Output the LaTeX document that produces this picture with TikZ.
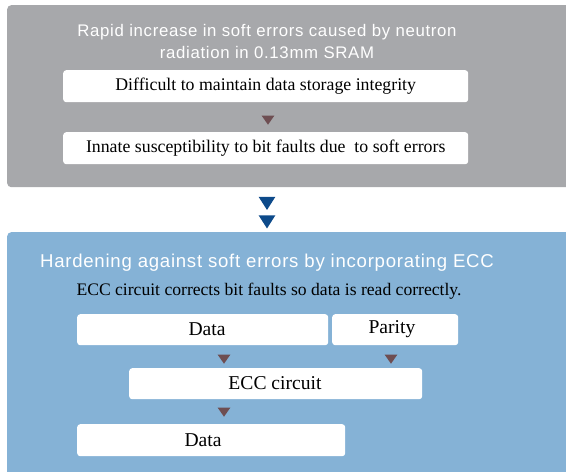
\documentclass[tikz,border=0pt]{standalone}
\usepackage{fontspec}
\setmainfont{Liberation Serif}
\newfontfamily\headfont[LetterSpace=4]{Liberation Sans}
\usetikzlibrary{shapes.geometric}
\definecolor{panelgray}{HTML}{A7A8AB}
\definecolor{panelblue}{HTML}{85B2D6}
\definecolor{navyarrow}{HTML}{0D4A8A}
\definecolor{browntip}{HTML}{6E4E52}
\tikzset{
  panel/.style={rounded corners=4pt, inner sep=0pt, anchor=north west},
  whitebox/.style={fill=white, rounded corners=3pt, inner sep=0pt, anchor=north west},
  headline/.style={text=white, align=center, font=\headfont\fontsize{16.8}{22}\selectfont},
  boxtext/.style={font=\fontsize{17.8}{20}\selectfont},
  celltext/.style={font=\fontsize{19.6}{22}\selectfont},
  tip/.style={isosceles triangle, isosceles triangle apex angle=70, shape border rotate=-90,
    fill=browntip, inner sep=0pt, minimum width=12pt, minimum height=9pt},
  bigtip/.style={isosceles triangle, isosceles triangle apex angle=65, shape border rotate=-90,
    fill=navyarrow, inner sep=0pt, minimum width=15pt, minimum height=13pt}
}
\begin{document}
\begin{tikzpicture}[x=1pt, y=-1pt]
\useasboundingbox (0,0) rectangle (566,472);
\clip (0,0) rectangle (566,472);

% upper panel: the problem
\node[panel, fill=panelgray, minimum width=580pt, minimum height=182pt] (top) at (7,5) {};
\node[headline] (toptitle) at (267,41) {Rapid increase in soft errors caused by neutron\\radiation in 0.13mm SRAM};
\node[whitebox, minimum width=405pt, minimum height=32pt] (diff) at (63,70) {};
\node[boxtext] (difftext) at (diff.center) {Difficult to maintain data storage integrity};
\node[tip] (t1) at (268,119) {};
\node[whitebox, minimum width=405pt, minimum height=32pt] (innate) at (63,132) {};
\node[boxtext] (innatetext) at (innate.center) {Innate susceptibility to bit faults due\ \ to soft errors};

% transition arrows
\node[bigtip] (a1) at (267,201.5) {};
\node[bigtip] (a2) at (267,220) {};

% lower panel: the remedy
\node[panel, fill=panelblue, minimum width=580pt, minimum height=260pt] (bottom) at (7,232) {};
\node[headline, font=\headfont\fontsize{18.6}{22}\selectfont] (bottitle) at (267,263) {Hardening against soft errors by incorporating ECC};
\node[font=\fontsize{17.6}{20}\selectfont] (subtitle) at (269,291) {ECC circuit corrects bit faults so data is read correctly.};

\node[whitebox, minimum width=251pt, minimum height=31pt] (data) at (77,314) {};
\node[celltext] (datatext) at (207,329.5) {Data};
\node[whitebox, minimum width=126pt, minimum height=31pt] (parity) at (332,314) {};
\node[celltext] (paritytext) at (392,329.5) {Parity};

\node[tip] (t2) at (224,358) {};
\node[tip] (t3) at (391,358) {};

\node[whitebox, minimum width=293pt, minimum height=31pt] (ecc) at (129,368) {};
\node[celltext] (ecctext) at (275,383.5) {ECC circuit};

\node[tip] (t4) at (224,411) {};

\node[whitebox, minimum width=268pt, minimum height=32pt] (out) at (77,424) {};
\node[celltext] (outtext) at (203,440) {Data};
\end{tikzpicture}
\end{document}
